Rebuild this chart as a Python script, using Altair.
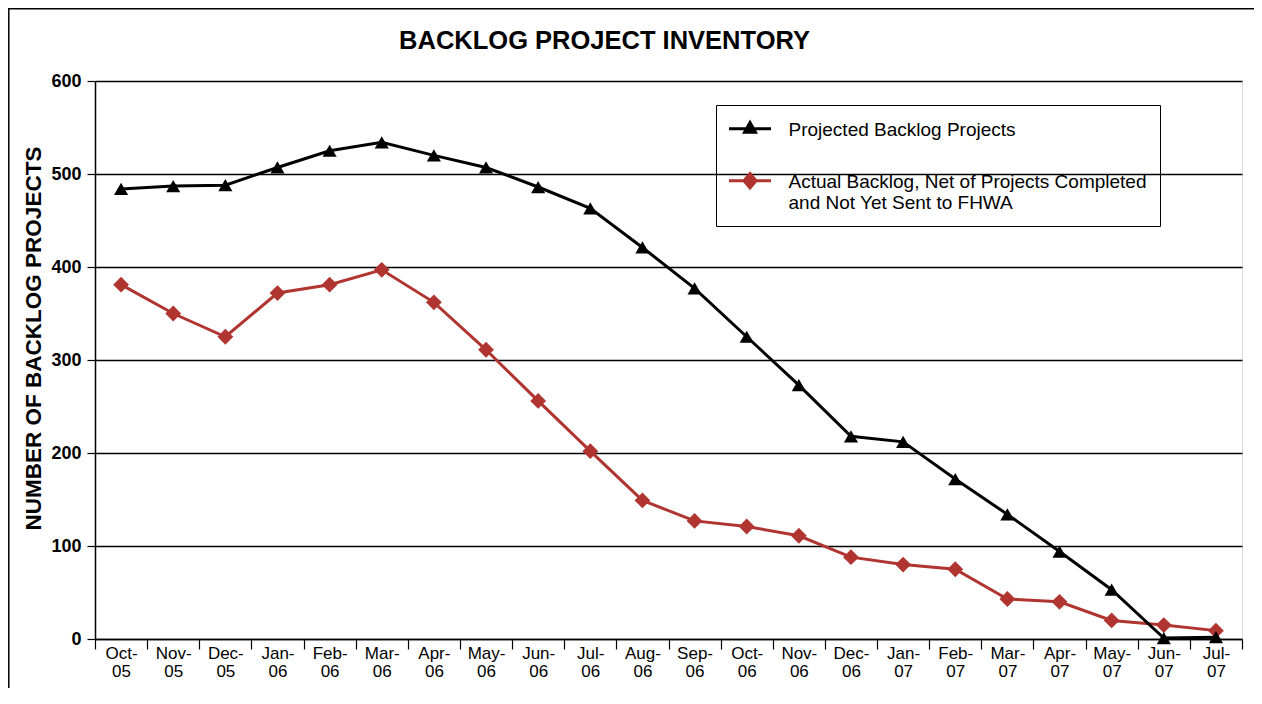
import altair as alt
import pandas as pd

months = ["Oct-05", "Nov-05", "Dec-05", "Jan-06", "Feb-06", "Mar-06", "Apr-06", "May-06",
          "Jun-06", "Jul-06", "Aug-06", "Sep-06", "Oct-06", "Nov-06", "Dec-06", "Jan-07",
          "Feb-07", "Mar-07", "Apr-07", "May-07", "Jun-07", "Jul-07"]
projected = [484, 487, 488, 507, 525, 534, 520, 507, 486, 463, 421, 377,
             325, 273, 218, 212, 172, 134, 94, 53, 1, 2]
actual = [381, 350, 325, 372, 381, 397, 362, 311, 256, 202, 149, 127,
          121, 111, 88, 80, 75, 43, 40, 20, 15, 9]
series_names = ["Projected Backlog Projects",
                "Actual Backlog, Net of Projects Completed and Not Yet Sent to FHWA"]
series_colors = ["#000000", "#b03530"]
y_ticks = [0, 100, 200, 300, 400, 500, 600]

rows = []
for m, p, a in zip(months, projected, actual):
    rows.append({"month": m, "series": series_names[0], "value": p})
    rows.append({"month": m, "series": series_names[1], "value": a})
df = pd.DataFrame(rows)

FONT = "Liberation Sans"

x_enc = alt.X(
    "month:N", sort=months,
    scale=alt.Scale(type="band", paddingInner=0, paddingOuter=0),
    axis=alt.Axis(title=None, labelAngle=0,
                  labelExpr="isString(datum.value) ? [slice(datum.value, 0, 4), slice(datum.value, 4)] : ''",
                  tickBand="extent", tickSize=10, tickWidth=1.2, tickColor="black",
                  labelPadding=-4, labelFontSize=17, labelLineHeight=18,
                  labelFont=FONT, labelColor="black", labelBaseline="top",
                  domainColor="black", domainWidth=1.5, grid=False),
)
y_enc = alt.Y(
    "value:Q",
    scale=alt.Scale(domain=[0, 600], nice=False),
    axis=alt.Axis(title="NUMBER OF BACKLOG PROJECTS", values=y_ticks,
                  tickSize=8, tickWidth=1.2, tickColor="black",
                  labelPadding=6, labelFontSize=18, labelFontWeight="bold",
                  labelFont=FONT, labelColor="black",
                  grid=True, gridColor="black", gridWidth=1.3, gridOpacity=1,
                  domainColor="black", domainWidth=1.5,
                  titleFont=FONT, titleFontSize=22.5, titleFontWeight="bold",
                  titleColor="black", titleAngle=270, titleAlign="center",
                  titleBaseline="middle", titleX=-62, titleY=257),
)

tri_path = "M-1.3125,-0.425L1.3125,-0.425M0,-0.815L0.34,-0.205L-0.34,-0.205Z"
dia_path = "M-1.3125,-0.425L1.3125,-0.425M0,-0.875L0.38,-0.425L0,0.025L-0.38,-0.425Z"

label_expr = ("datum.label == '" + series_names[1] + "' ? "
              "['Actual Backlog, Net of Projects Completed', 'and Not Yet Sent to FHWA'] : datum.label")

leg = alt.Legend(
    title=None, orient="none", legendX=621, legendY=24, direction="vertical",
    padding=13, strokeColor="black", symbolSize=1024, symbolOffset=3.5,
    labelOffset=21, labelFontSize=19, labelFont=FONT, labelColor="black",
    labelLimit=600, rowPadding=27, symbolOpacity=1, symbolStrokeWidth=3,
    labelExpr=label_expr, labelBaseline="alphabetic",
)

base = alt.Chart(df)

line_act = base.transform_filter(alt.datum.series == series_names[1]).mark_line(
    color=series_colors[1], strokeWidth=3).encode(x=x_enc, y=y_enc)
pts_act = base.transform_filter(alt.datum.series == series_names[1]).mark_point(
    shape="diamond", filled=True, size=250, color=series_colors[1], opacity=1).encode(x=x_enc, y=y_enc)
line_proj = base.transform_filter(alt.datum.series == series_names[0]).mark_line(
    color=series_colors[0], strokeWidth=3).encode(x=x_enc, y=y_enc)
pts_proj = base.transform_filter(alt.datum.series == series_names[0]).mark_point(
    shape="triangle-up", filled=True, size=200, color=series_colors[0], opacity=1).encode(x=x_enc, y=y_enc)

legend_layer = base.mark_point(filled=True, opacity=0, strokeWidth=3).encode(
    x=x_enc, y=y_enc,
    color=alt.Color("series:N", scale=alt.Scale(domain=series_names, range=series_colors), legend=leg),
    stroke=alt.Stroke("series:N", scale=alt.Scale(domain=series_names, range=series_colors), legend=leg),
    shape=alt.Shape("series:N", scale=alt.Scale(domain=series_names, range=[tri_path, dia_path]), legend=leg),
)

deco = pd.DataFrame({"k": [0]})
border_left = alt.Chart(deco).mark_rule(color="black", strokeWidth=1.5).encode(
    x=alt.value(-86.2), y=alt.value(-73), y2=alt.value(640))
border_top = alt.Chart(deco).mark_rule(color="black", strokeWidth=1.5).encode(
    x=alt.value(-87), x2=alt.value(1200), y=alt.value(-72.2))

chart = alt.layer(
    line_act, pts_act, line_proj, pts_proj, legend_layer, border_left, border_top
).properties(
    width=1147, height=558,
    title=alt.TitleParams("BACKLOG PROJECT INVENTORY", fontSize=25.5, font=FONT,
                          fontWeight="bold", color="black", anchor="middle",
                          dx=-64, offset=-67, baseline="alphabetic", frame="group"),
    autosize=alt.AutoSizeParams(type="none"),
    padding={"left": 87, "top": 73, "right": 12, "bottom": 49},
).configure_view(
    stroke="black", strokeWidth=1.5
).configure(background="white")

chart.save("out.html", embed_options={"renderer": "svg", "actions": False})
